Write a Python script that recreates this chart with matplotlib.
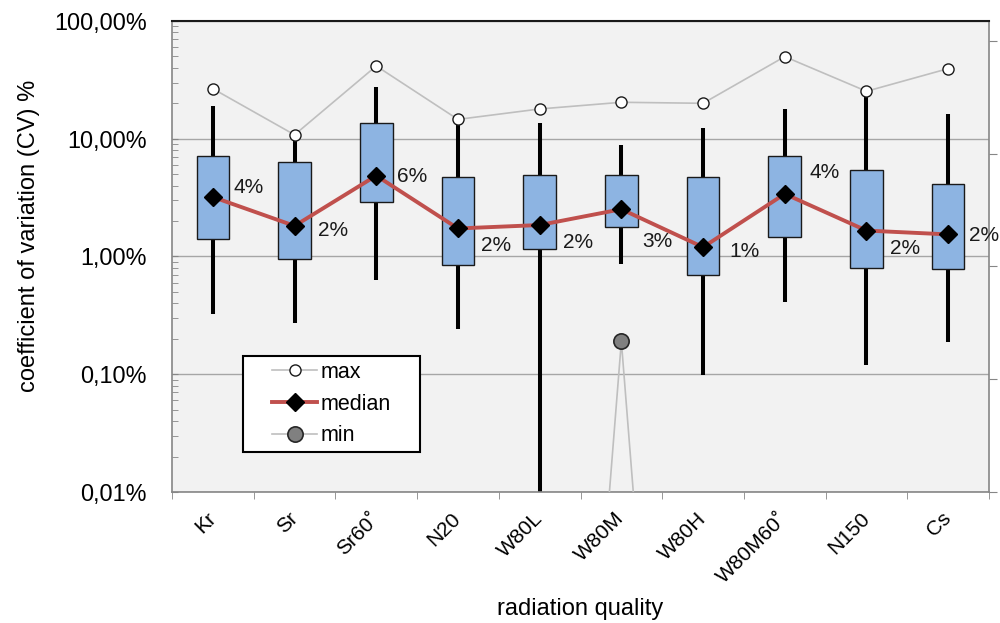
import matplotlib
matplotlib.use("Agg")
import matplotlib.pyplot as plt
import numpy as np
from matplotlib.patches import Rectangle
from matplotlib.ticker import FixedLocator, LogLocator, NullFormatter, FuncFormatter

plt.rcParams['font.family'] = ['Liberation Sans', 'DejaVu Sans']

categories = ['Kr', 'Sr', 'Sr60˚', 'N20', 'W80L', 'W80M', 'W80H', 'W80M60˚', 'N150', 'Cs']
# values in percent
whisker_high = [19.0, 10.5, 27.7, 13.5, 13.7, 8.9, 12.3, 18.0, 24.0, 16.2]
box_high = [7.1, 6.4, 13.5, 4.76, 4.96, 4.92, 4.73, 7.1, 5.4, 4.15]
median = [3.2, 1.82, 4.86, 1.73, 1.85, 2.52, 1.2, 3.4, 1.66, 1.54]
box_low = [1.42, 0.95, 2.88, 0.85, 1.16, 1.77, 0.70, 1.46, 0.80, 0.78]
whisker_low = [0.325, 0.27, 0.63, 0.242, 0.0095, 0.86, 0.098, 0.41, 0.12, 0.187]
max_vals = [26.6, 10.8, 41.5, 14.6, 17.9, 20.4, 20.0, 49.8, 25.3, 39.4]
min_vals = [3.3e-10, 3.3e-10, 3.3e-10, 3.3e-10, 3.3e-10, 0.19, 3.3e-10, 3.3e-10, 3.3e-10, 3.3e-10]
labels = ['4%', '2%', '6%', '2%', '2%', '3%', '1%', '4%', '2%', '2%']

# label offsets in pixels (right, down)
label_off = [(21, -10), (23, 5), (21, 1), (23, 17), (23, 17), (21, 32), (26, 4), (25, -21), (24, 18), (21, 1)]

fig = plt.figure(figsize=(10, 6.23), dpi=100)
ax = fig.add_axes([0.172, 0.2103, 0.817, 0.756])
ax.set_facecolor('#F2F2F2')

x = np.arange(len(categories))
box_w = 0.4

ax.vlines(x, whisker_low, whisker_high, color='black', linewidth=2.9, zorder=2)
ax.bar(x, np.array(box_high) - np.array(box_low), bottom=box_low, width=box_w,
       color='#8DB4E2', edgecolor='#1a1a1a', linewidth=1.0, zorder=3)

ax.plot(x, max_vals, color='#BFBFBF', linewidth=1.2, marker='o', markersize=8,
        markerfacecolor='white', markeredgecolor='#1a1a1a', markeredgewidth=1.0,
        zorder=4, label='max')
ax.plot(x, median, color='#C0504D', linewidth=2.8, marker='D', markersize=9,
        markerfacecolor='black', markeredgecolor='black', zorder=5, label='median')
ax.plot(x, min_vals, color='#BFBFBF', linewidth=1.2, marker='o', markersize=11,
        markerfacecolor='#808080', markeredgecolor='#262626', markeredgewidth=1.2,
        zorder=4, label='min')

for i in range(len(categories)):
    dx, dy = label_off[i]
    ax.annotate(labels[i], xy=(x[i], median[i]), xytext=(dx / 1.389, -dy / 1.389),
                textcoords='offset points', ha='left', va='center', fontsize=15,
                color='#1a1a1a', zorder=6)

ax.set_yscale('log')
ax.set_ylim(0.01, 100)
ax.set_xlim(-0.5, len(categories) - 0.5)
ax.yaxis.set_major_locator(FixedLocator([0.01, 0.1, 1, 10, 100]))
ax.yaxis.set_major_formatter(FuncFormatter(lambda v, p: ('%.2f%%' % v).replace('.', ',')))
ax.yaxis.set_minor_locator(LogLocator(base=10, subs=np.arange(2, 10)))
ax.yaxis.set_minor_formatter(NullFormatter())
ax.tick_params(axis='y', which='both', direction='in', length=4, color='#868686',
               labelsize=16.8, pad=18, right=False)
ax.grid(True, axis='y', which='major', color='#A6A6A6', linewidth=1.0)
ax.set_axisbelow(True)

ax.set_xticks(x)
ax.set_xticklabels(categories, rotation=45, ha='right', va='center', rotation_mode='anchor')
ax.set_xticks(np.arange(len(categories) + 1) - 0.5, minor=True)
ax.tick_params(axis='x', which='major', length=0, labelsize=15, pad=17)
ax.tick_params(axis='x', which='minor', direction='out', length=5, color='#868686')

for s in ['left', 'bottom', 'right']:
    ax.spines[s].set_color('#868686')
    ax.spines[s].set_linewidth(1.2)
ax.spines['top'].set_color('#1a1a1a')
ax.spines['top'].set_linewidth(1.5)

ax2 = ax.twinx()
ax2.set_ylim(0, 4.177)
ax2.set_yticks([0, 1, 2, 3, 4])
ax2.set_yticklabels([])
ax2.tick_params(axis='y', direction='out', length=6, color='#868686')
for s in ax2.spines.values():
    s.set_visible(False)

ax.set_ylabel('coefficient of variation (CV) %', fontsize=17)
ax.yaxis.set_label_coords(-0.161, 0.543)
ax.set_xlabel('radiation quality', fontsize=17)
ax.xaxis.set_label_coords(0.5, -0.225)

# legend box (Excel style, wide horizontal padding)
ax.add_patch(Rectangle((0.0869, 0.0849), 0.2166, 0.2038, transform=ax.transAxes,
                       facecolor='white', edgecolor='black', linewidth=1.5, zorder=9))
leg = ax.legend(loc='center', bbox_to_anchor=(0.1952, 0.1868), borderaxespad=0,
                fontsize=15.5, frameon=False, handlelength=2.1,
                handletextpad=0.15, borderpad=0.2, labelspacing=0.5)
leg.set_zorder(10)

plt.savefig('out.png', dpi=100)
plt.close()
